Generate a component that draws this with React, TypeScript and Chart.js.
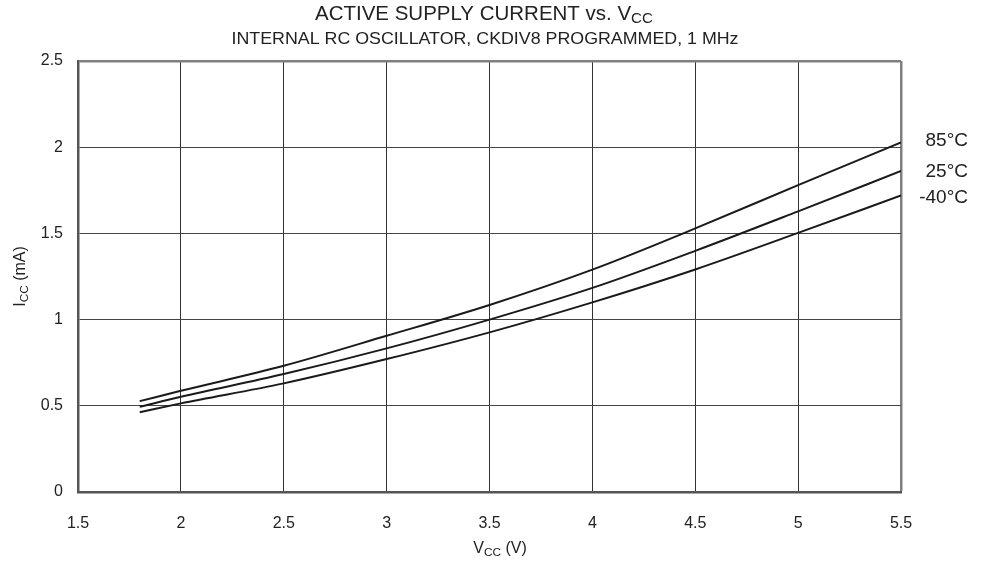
import React, { useEffect, useRef } from "react";
import { Chart, registerables } from "chart.js";

Chart.register(...registerables);

const vcc = [1.8, 2, 2.5, 3, 3.5, 4, 4.5, 5, 5.5];
const icc85 = [0.527, 0.587, 0.732, 0.906, 1.085, 1.29, 1.529, 1.78, 2.028];
const icc25 = [0.494, 0.552, 0.684, 0.833, 1.0, 1.184, 1.399, 1.628, 1.862];
const iccM40 = [0.463, 0.514, 0.63, 0.771, 0.926, 1.1, 1.291, 1.503, 1.72];
const seriesLabels = ["85°C", "25°C", "-40°C"];
const xTickValues = [1.5, 2, 2.5, 3, 3.5, 4, 4.5, 5, 5.5];
const yTickValues = [0, 0.5, 1, 1.5, 2, 2.5];

const FONT = "'Liberation Sans', Arial, sans-serif";

type Seg = { t: string; sub?: boolean };

function drawRich(
  ctx: CanvasRenderingContext2D,
  segs: Seg[],
  size: number,
  cx: number,
  cy: number,
  targetWidth: number | null,
  rotate = false
) {
  const subSize = size * 0.74;
  ctx.save();
  ctx.fillStyle = "#222";
  ctx.textBaseline = "middle";
  ctx.textAlign = "left";
  let total = 0;
  const widths = segs.map((s) => {
    ctx.font = `${s.sub ? subSize : size}px ${FONT}`;
    const w = ctx.measureText(s.t).width;
    total += w;
    return w;
  });
  const scaleX = targetWidth ? targetWidth / total : 1;
  ctx.translate(cx, cy);
  if (rotate) ctx.rotate(-Math.PI / 2);
  ctx.scale(scaleX, 1);
  let x = -total / 2;
  segs.forEach((s, i) => {
    ctx.font = `${s.sub ? subSize : size}px ${FONT}`;
    ctx.fillText(s.t, x, s.sub ? size * 0.25 : 0);
    x += widths[i];
  });
  ctx.restore();
}

const textPlugin = {
  id: "textPlugin",
  afterDraw(chart: any) {
    const ctx = chart.ctx as CanvasRenderingContext2D;
    const area = chart.chartArea;
    const cx = (area.left + area.right) / 2;
    drawRich(ctx, [{ t: "ACTIVE SUPPLY CURRENT vs. V" }, { t: "CC", sub: true }], 20, 484, 14, 338);
    drawRich(ctx, [{ t: "INTERNAL RC OSCILLATOR, CKDIV8 PROGRAMMED, 1 MHz" }], 17, 485, 39, 507);
    drawRich(ctx, [{ t: "V" }, { t: "CC", sub: true }, { t: " (V)" }], 16, 500, 549, null);
    drawRich(ctx, [{ t: "I" }, { t: "CC", sub: true }, { t: " (mA)" }], 16, 21, (area.top + area.bottom) / 2, null, true);
    const y = chart.scales.y;
    const lasts = [icc85, icc25, iccM40].map((a) => a[a.length - 1]);
    const offs = [-2, 1, 2];
    ctx.save();
    ctx.fillStyle = "#222";
    ctx.font = `19px ${FONT}`;
    ctx.textAlign = "right";
    ctx.textBaseline = "middle";
    lasts.forEach((v, i) => {
      ctx.fillText(seriesLabels[i], area.right + 67, y.getPixelForValue(v) + offs[i]);
    });
    ctx.restore();
  },
};

export default function App() {
  const ref = useRef<HTMLCanvasElement>(null);
  useEffect(() => {
    const mk = (arr: number[]) => vcc.map((x, i) => ({ x, y: arr[i] }));
    const ds = (arr: number[]) => ({
      data: mk(arr),
      borderColor: "#1a1a1a",
      borderWidth: 2,
      pointRadius: 0,
      cubicInterpolationMode: "monotone" as const,
      fill: false,
    });
    const chart = new Chart(ref.current!, {
      type: "line",
      data: { datasets: [ds(icc85), ds(icc25), ds(iccM40)] },
      options: {
        animation: false,
        responsive: false,
        layout: { padding: { top: 61, right: 84, left: 0, bottom: 0 } },
        plugins: { legend: { display: false }, tooltip: { enabled: false }, title: { display: false } },
        scales: {
          x: {
            type: "linear",
            min: 1.5,
            max: 5.5,
            afterFit: (s: any) => {
              s.height = 72;
            },
            afterBuildTicks: (s: any) => {
              s.ticks = xTickValues.map((v) => ({ value: v }));
            },
            ticks: {
              padding: 22,
              color: "#222",
              font: { family: FONT, size: 16 },
              callback: (v: any) => String(v),
            },
            grid: {
              drawTicks: false,
              color: (c: any) => (c.tick && c.tick.value === 5.5 ? "#808080" : "#333"),
              lineWidth: (c: any) => (c.tick && c.tick.value === 5.5 ? 2.5 : 1),
            },
            border: { color: "#555", width: 2.5 },
          },
          y: {
            type: "linear",
            min: 0,
            max: 2.5,
            afterFit: (s: any) => {
              s.width = 78;
            },
            afterBuildTicks: (s: any) => {
              s.ticks = yTickValues.map((v) => ({ value: v }));
            },
            ticks: {
              padding: 15,
              color: "#222",
              font: { family: FONT, size: 16 },
              callback: (v: any) => String(v),
            },
            grid: {
              drawTicks: false,
              color: (c: any) => (c.tick && c.tick.value === 2.5 ? "#808080" : "#444"),
              lineWidth: (c: any) => (c.tick && c.tick.value === 2.5 ? 2.5 : 1),
            },
            border: { color: "#555", width: 2.5 },
          },
        },
      },
      plugins: [textPlugin],
    });
    return () => chart.destroy();
  }, []);
  return (
    <div style={{ position: "fixed", left: 0, top: 0, width: 985, height: 564, background: "#fff" }}>
      <canvas ref={ref} width={985} height={564} style={{ display: "block" }} />
    </div>
  );
}
